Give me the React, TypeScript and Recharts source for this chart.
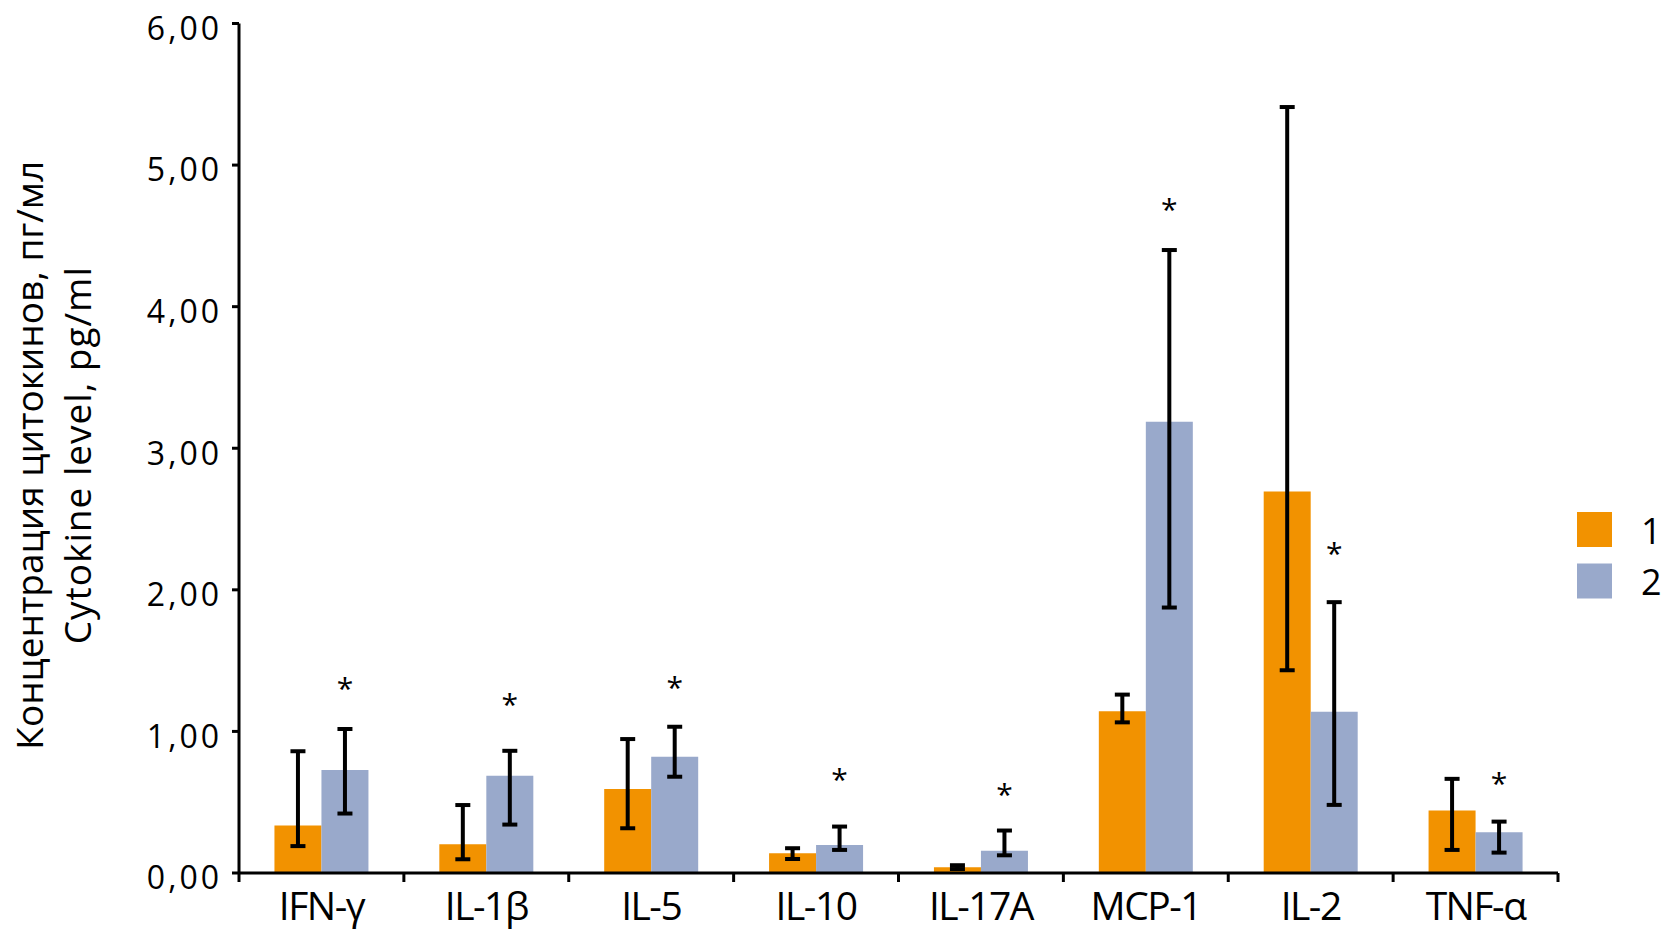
import React from 'react';
import { BarChart, Bar, XAxis, YAxis, ErrorBar, Legend, Rectangle } from 'recharts';

const FONT = '"Open Sans", "Noto Sans", sans-serif';
const ORANGE = '#F29200';
const BLUE = '#99A9CB';

const categories = ['IFN-γ', 'IL-1β', 'IL-5', 'IL-10', 'IL-17A', 'MCP-1', 'IL-2', 'TNF-α'];

const group1 = [0.335, 0.203, 0.594, 0.139, 0.04, 1.142, 2.694, 0.441];
const group1Low = [0.19, 0.097, 0.316, 0.099, 0.028, 1.064, 1.432, 0.163];
const group1High = [0.86, 0.48, 0.946, 0.175, 0.055, 1.26, 5.41, 0.665];

const group2 = [0.727, 0.686, 0.821, 0.198, 0.158, 3.187, 1.139, 0.288];
const group2Low = [0.42, 0.342, 0.68, 0.163, 0.125, 1.875, 0.481, 0.144];
const group2High = [1.017, 0.863, 1.033, 0.328, 0.3, 4.4, 1.913, 0.363];

const starLevel = [1.354, 1.243, 1.359, 0.713, 0.607, 4.735, 2.305, 0.682];

const yTicks = [0, 1, 2, 3, 4, 5, 6];
const legendLabels = ['1', '2'];
const titleLines = ['Концентрация цитокинов, пг/мл', 'Cytokine level, pg/ml'];

const data = categories.map((name, i) => ({
  name,
  g1: group1[i],
  g2: group2[i],
  e1: [group1[i] - group1Low[i], group1High[i] - group1[i]],
  e2: [group2[i] - group2Low[i], group2High[i] - group2[i]],
  star: starLevel[i],
}));

const YTick = (props: any) => {
  const { x, y, payload } = props;
  return (
    <text
      x={x + 3}
      y={y + 16.4}
      textAnchor="end"
      fontFamily={FONT}
      fontSize={32}
      letterSpacing={3}
      fill="#000"
    >
      {Number(payload.value).toFixed(2).replace('.', ',')}
    </text>
  );
};

const XTick = (props: any) => {
  const { x, y, payload, index, visibleTicksCount, width } = props;
  const half = typeof payload.offset === 'number' && payload.offset > 0 ? payload.offset : width / (2 * visibleTicksCount);
  const axisY = y - 19;
  return (
    <g>
      <line x1={x - half} x2={x - half} y1={axisY} y2={axisY + 9} stroke="#000" strokeWidth={3} />
      {index === visibleTicksCount - 1 && (
        <line x1={x + half} x2={x + half} y1={axisY} y2={axisY + 9} stroke="#000" strokeWidth={3} />
      )}
      <text x={x} y={y} dy="0.71em" textAnchor="middle" fontFamily={FONT} fontSize={39} letterSpacing={-1.5} fill="#000">
        {payload.value}
      </text>
    </g>
  );
};

const StarBar = (props: any) => {
  const { x, y, width, height, payload, fill } = props;
  const perUnit = payload.g2 > 0 ? height / payload.g2 : 0;
  const sy = y + height - payload.star * perUnit;
  return (
    <g>
      <Rectangle x={x} y={y} width={width} height={height} fill={fill} />
      <text x={x + width / 2} y={sy + 0.585 * 30} textAnchor="middle" fontFamily={FONT} fontSize={30} fill="#000">
        *
      </text>
    </g>
  );
};

const renderTitle = (props: any) => {
  const vb = props.viewBox || {};
  const cy = (vb.y ?? 23.5) + (vb.height ?? 849.5) / 2 + 7;
  const xs = [43, 91];
  const spacing = [0, 1];
  return (
    <g>
      {titleLines.map((t, i) => (
        <text
          key={i}
          x={xs[i]}
          y={cy}
          transform={`rotate(-90 ${xs[i]} ${cy})`}
          textAnchor="middle"
          fontFamily={FONT}
          fontSize={37}
          letterSpacing={spacing[i]}
          fill="#000"
        >
          {t}
        </text>
      ))}
    </g>
  );
};

const renderLegend = () => {
  const colors = [ORANGE, BLUE];
  return (
    <svg width={87} height={90} style={{ display: 'block', overflow: 'visible' }}>
      {legendLabels.map((l, i) => (
        <g key={l}>
          <rect x={0} y={i * 51.5} width={35} height={35} fill={colors[i]} />
          <text x={64} y={i * 51.5 + 31.6} fontFamily={FONT} fontSize={36} fill="#000">
            {l}
          </text>
        </g>
      ))}
    </svg>
  );
};

export default function App() {
  return (
    <div style={{ position: 'absolute', left: 0, top: 0, width: 1664, height: 936, background: '#fff' }}>
      <BarChart
        width={1664}
        height={936}
        data={data}
        margin={{ top: 23.5, right: 106, bottom: 0, left: 0 }}
        barCategoryGap="21.5%"
        barGap={0}
      >
        <XAxis
          dataKey="name"
          interval={0}
          height={63}
          tickLine={false}
          tickSize={8}
          tickMargin={11}
          axisLine={{ stroke: '#000', strokeWidth: 3 }}
          tick={XTick}
        />
        <YAxis
          domain={[0, 6]}
          ticks={yTicks}
          interval={0}
          width={239}
          tickSize={7}
          tickMargin={13}
          axisLine={{ stroke: '#000', strokeWidth: 3 }}
          tickLine={{ stroke: '#000', strokeWidth: 3 }}
          tick={YTick}
          label={renderTitle}
        />
        <Legend
          layout="vertical"
          align="center"
          verticalAlign="middle"
          wrapperStyle={{ left: 1577, top: 511.7, width: 87, height: 90 }}
          content={renderLegend}
        />
        <Bar dataKey="g1" fill={ORANGE} isAnimationActive={false}>
          <ErrorBar dataKey="e1" width={7.5} strokeWidth={4} stroke="#000" direction="y" isAnimationActive={false} />
        </Bar>
        <Bar dataKey="g2" fill={BLUE} isAnimationActive={false} shape={StarBar}>
          <ErrorBar dataKey="e2" width={7.5} strokeWidth={4} stroke="#000" direction="y" isAnimationActive={false} />
        </Bar>
      </BarChart>
    </div>
  );
}
